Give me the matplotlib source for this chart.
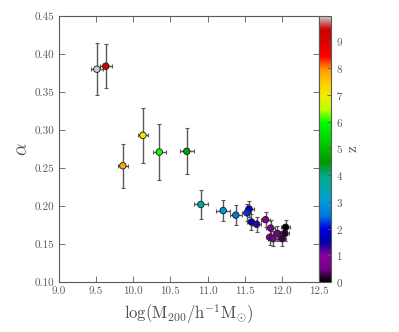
import matplotlib
matplotlib.use("Agg")
import matplotlib.pyplot as plt
import numpy as np

plt.rcParams['font.family'] = 'serif'
plt.rcParams['font.serif'] = ['cmr10']
plt.rcParams['mathtext.fontset'] = 'cm'
plt.rcParams['axes.unicode_minus'] = False
plt.rcParams['axes.formatter.use_mathtext'] = True

# data
logM = [9.51, 9.63, 9.86, 10.13, 10.35, 10.72, 10.91, 11.21, 11.38, 11.56, 11.53,
        11.59, 11.66, 11.78, 11.85, 11.84, 11.88, 11.94, 12.00, 12.04, 12.05]
alpha = [0.380, 0.384, 0.253, 0.293, 0.271, 0.272, 0.202, 0.194, 0.188, 0.196, 0.191,
         0.179, 0.176, 0.182, 0.171, 0.159, 0.157, 0.164, 0.157, 0.164, 0.172]
redshift = [9.95, 9.0, 7.8, 7.1, 6.0, 4.6, 3.7, 3.0, 2.6, 2.0, 2.2,
            1.6, 1.3, 1.0, 0.9, 0.8, 0.7, 0.5, 0.3, 0.2, 0.0]
logM_err = [0.08, 0.077, 0.067, 0.07, 0.09, 0.094, 0.09, 0.09, 0.08, 0.06, 0.06,
            0.06, 0.06, 0.06, 0.06, 0.06, 0.06, 0.06, 0.06, 0.06, 0.06]
alpha_err = [0.034, 0.029, 0.029, 0.036, 0.037, 0.030, 0.019, 0.014, 0.013, 0.011, 0.011,
             0.010, 0.010, 0.010, 0.010, 0.010, 0.010, 0.010, 0.010, 0.010, 0.010]
cbar_ticks = list(range(10))

fig = plt.figure(figsize=(3.99, 3.32), dpi=100)
ax = fig.add_axes([59/399, 1-282/332, 260/399, 266/332])
cax = fig.add_axes([319/399, 1-282/332, 12/399, 266/332])

ax.errorbar(logM, alpha, xerr=logM_err, yerr=alpha_err, fmt='none',
            ecolor='0.35', elinewidth=1.0, capsize=1.5, capthick=0.8, zorder=1)
sc = ax.scatter(logM, alpha, c=redshift, cmap='nipy_spectral', vmin=0, vmax=9.95,
                s=22, edgecolors='0.1', linewidths=0.6, zorder=2)

ax.set_xlim(9.0, 12.5)
ax.set_ylim(0.10, 0.45)
ax.set_xticks(np.arange(9.0, 12.51, 0.5))
ax.set_yticks(np.arange(0.10, 0.451, 0.05))
ax.set_xticklabels(['%.1f' % v for v in np.arange(9.0, 12.51, 0.5)])
ax.set_yticklabels(['%.2f' % v for v in np.arange(0.10, 0.451, 0.05)])
ax.tick_params(direction='in', top=True, right=True, labelsize=8,
               labelcolor='0.35', color='0.35', length=4, width=0.6)
for s in ax.spines.values():
    s.set_color('0.35')
    s.set_linewidth(0.8)

ax.set_xlabel(r'$\log(\mathrm{M}_{200}/\mathrm{h}^{-1}\mathrm{M}_{\odot})$', fontsize=12, color='0.3', labelpad=4)
ax.set_ylabel(r'$\alpha$', fontsize=14, color='0.3', labelpad=2)

cb = fig.colorbar(sc, cax=cax, ticks=cbar_ticks)
cb.outline.set_edgecolor('0.35')
cb.outline.set_linewidth(0.8)
cax.tick_params(direction='in', labelsize=8, labelcolor='0.35', color='0.35', length=3, width=0.6)
cb.set_label('z', fontsize=11, color='0.3', labelpad=2)

fig.savefig('out.png', dpi=100)
